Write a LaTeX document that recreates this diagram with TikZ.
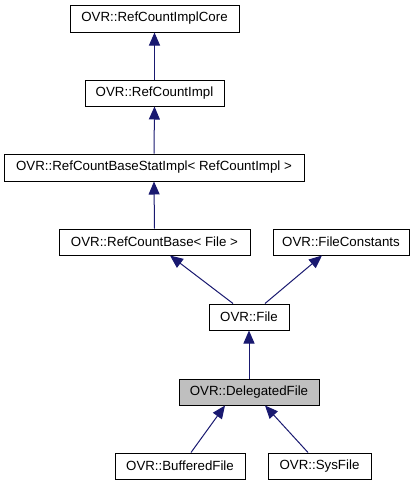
\documentclass[tikz,border=0pt]{standalone}
\usepackage{fontspec}
\setmainfont{Liberation Sans}
\usetikzlibrary{arrows.meta,calc}
\definecolor{edgeblue}{HTML}{191970}
\definecolor{curfill}{HTML}{BFBFBF}
\begin{document}
\begin{tikzpicture}[x=1pt,y=-1pt,
  cls/.style={draw=black,line width=1pt,fill=white,inner sep=0pt,minimum height=26pt,font=\fontsize{13.3}{15}\selectfont,text=black},
  cur/.style={cls,fill=curfill},
  inh/.style={draw=edgeblue,line width=1pt,-{Triangle[length=13pt,width=11pt]}}]
\useasboundingbox (0,0) rectangle (419,485);
\node[cls,minimum width=169pt,minimum height=27pt] (n1) at (154.5,18.5) {OVR::RefCountImplCore};
\node[cls,minimum width=139pt] (n2) at (154.5,93) {OVR::RefCountImpl};
\node[cls,minimum width=300pt,minimum height=27pt] (n3) at (154,167.5) {OVR::RefCountBaseStatImpl< RefCountImpl >};
\node[cls,minimum width=191pt] (n4) at (154.5,242) {OVR::RefCountBase< File >};
\node[cls,minimum width=136pt] (n5) at (341,242) {OVR::FileConstants};
\node[cls,minimum width=80pt] (n6) at (249,317) {OVR::File};
\node[cur,minimum width=140pt] (n7) at (249,392) {OVR::DelegatedFile};
\node[cls,minimum width=130pt] (n8) at (180,466) {OVR::BufferedFile};
\node[cls,minimum width=103pt] (n9) at (319.5,466) {OVR::SysFile};
\draw[inh] (n2.north) -- (n1.south);
\draw[inh] (n3.north) -- (n2.south);
\draw[inh] (n4.north) -- (n3.south);
\draw[inh] ($(n6.north)+(-16,0)$) -- ($(n4.south)+(15.5,0)$);
\draw[inh] ($(n6.north)+(16,0)$) -- ($(n5.south)+(-19,0)$);
\draw[inh] (n7.north) -- (n6.south);
\draw[inh] ($(n8.north)+(11,0)$) -- ($(n7.south)+(-24,0)$);
\draw[inh] ($(n9.north)+(-11.5,0)$) -- ($(n7.south)+(16,0)$);
\end{tikzpicture}
\end{document}
